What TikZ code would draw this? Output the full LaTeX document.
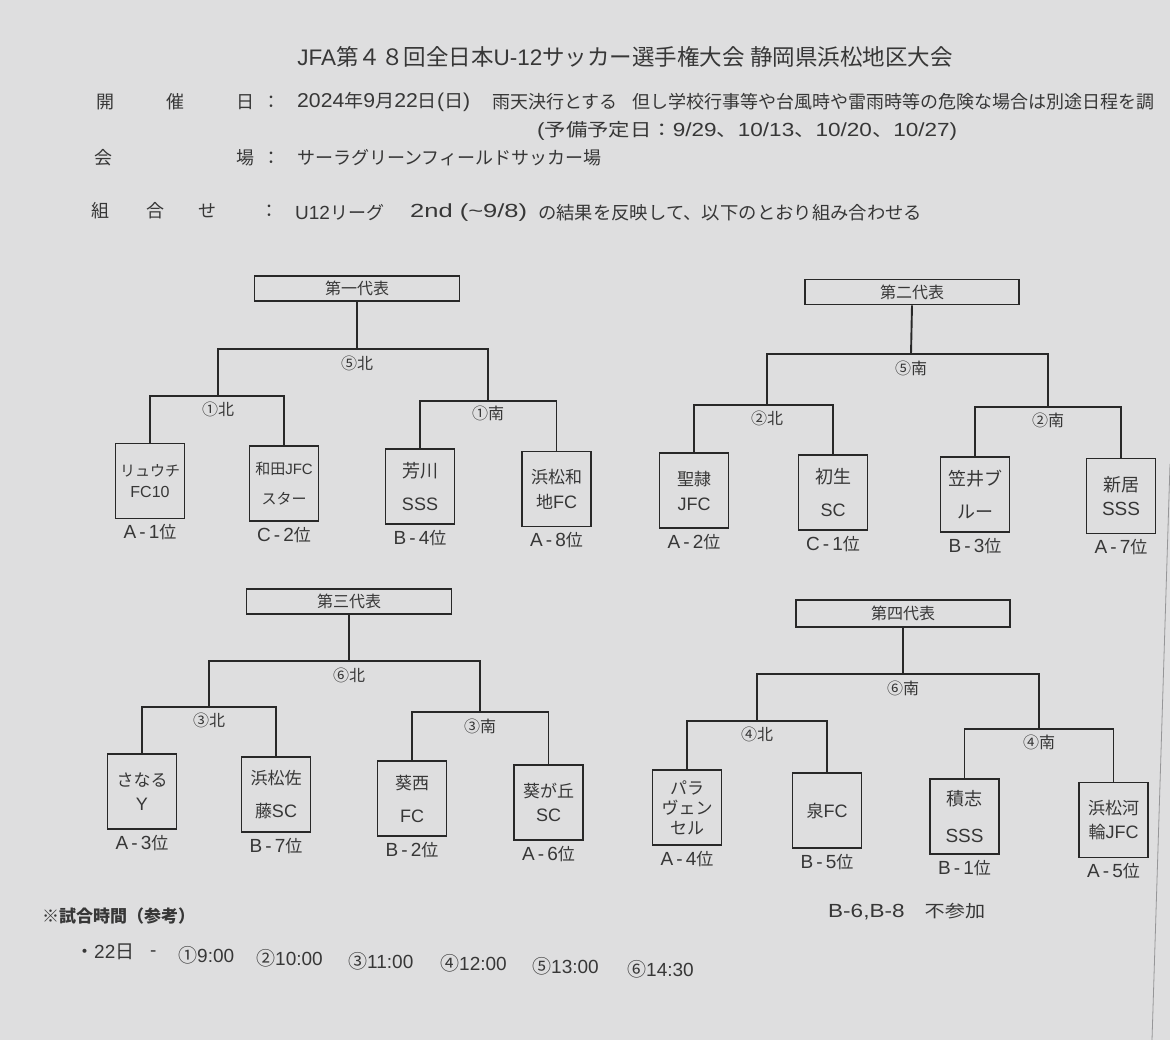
\documentclass[tikz,border=0pt]{standalone}
\usepackage{fontspec}
\setmainfont{Noto Sans CJK JP}
\newfontfamily\la{Liberation Sans}
\usetikzlibrary{positioning}
\definecolor{bg}{RGB}{222,222,223}
\definecolor{ink}{RGB}{40,40,40}
\definecolor{txt}{RGB}{55,55,55}
\definecolor{edge}{RGB}{150,150,152}
\newcommand\myfs[2]{\fontsize{#1}{#2}\selectfont}
\newcommand\rnk[2]{{\la\myfs{19}{20}#1\,-\,#2}位}
\newcommand\fitw[2]{\resizebox{#1}{\height}{#2}}
\begin{document}
\begin{tikzpicture}[x=1pt,y=-1pt,
  conn/.style={draw=ink,line width=1.9pt},
  teambox/.style={draw=ink,line width=1.9pt,minimum width=69pt,minimum height=75pt,inner sep=0pt,align=center,text=txt},
  headbox/.style={draw=ink,line width=1.7pt,minimum width=205pt,minimum height=25pt,inner sep=0pt,text=txt,font=\myfs{16}{18}},
  rank/.style={text=txt,font=\myfs{17}{20},inner sep=0pt,anchor=north},
  lbl/.style={text=txt,font=\myfs{16}{19},inner sep=0pt},
  hdr/.style={text=txt,font=\myfs{18}{22},inner sep=0pt,anchor=west},
]
\useasboundingbox (0,0) rectangle (1170,1040);
\clip (0,0) rectangle (1170,1040);
\fill[bg] (0,0) rectangle (1170,1040);
\draw[edge,line width=0.8pt] (1170,464) -- (1152,1040);

% ---------- header ----------
\node[text=txt,font=\myfs{22.5}{26},inner sep=0pt] (title) at (625,57) {{\la JFA}第４８回全日本{\la U-12}サッカー選手権大会 静岡県浜松地区大会};

\node[hdr] (h1a) at (96,102) {開};
\node[hdr] (h1b) at (166,102) {催};
\node[hdr] (h1c) at (236,102) {日};
\node[hdr] (h1d) at (262,102) {：};
\node[hdr] (h1e) at (297,102) {\fitw{173pt}{{\la\myfs{20}{22}2024}年{\la\myfs{20}{22}9}月{\la\myfs{20}{22}22}日{\la\myfs{20}{22}(}日{\la\myfs{20}{22})}}};
\node[hdr] (h1f) at (492,102) {雨天決行とする};
\node[hdr] (h1g) at (632,102) {但し学校行事等や台風時や雷雨時等の危険な場合は別途日程を調};
\node[hdr] (h2) at (537,131) {\fitw{420pt}{{\la\myfs{19}{22}(}予備予定日：{\la\myfs{19}{22}9/29}、{\la\myfs{19}{22}10/13}、{\la\myfs{19}{22}10/20}、{\la\myfs{19}{22}10/27)}}};
\node[hdr] (h3a) at (94,158) {会};
\node[hdr] (h3b) at (236,158) {場};
\node[hdr] (h3c) at (262,158) {：};
\node[hdr] (h3d) at (297,158) {サーラグリーンフィールドサッカー場};
\node[hdr] (h4a) at (91,211) {組};
\node[hdr] (h4b) at (146,211) {合};
\node[hdr] (h4c) at (198,211) {せ};
\node[hdr] (h4d) at (260,211) {：};
\node[hdr] (h4e) at (295,213) {{\la\myfs{19}{22}U12}リーグ};
\node[hdr] (h4f) at (410,213) {\fitw{117pt}{{\la\myfs{19}{22}2nd (\char"007E 9/8)}}};
\node[hdr] (h4g) at (538,213) {\fitw{384pt}{の結果を反映して、以下のとおり組み合わせる}};

% ---------- bracket 1 ----------
\node[headbox] (r1) at (357,288.5) {第一代表};
\node[teambox,font=\myfs{15}{21}] (t11) at (150,481) {リュウチ\\{\la\myfs{16}{21}FC10}};
\node[teambox,font=\myfs{15}{30}] (t12) at (284,483.5) {和田{\la\myfs{15}{30}JFC}\\スター};
\node[teambox,font=\myfs{18}{33}] (t13) at (420,486.5) {芳川\\{\la\myfs{18}{33}SSS}};
\node[teambox,font=\myfs{17}{25}] (t14) at (556.5,489) {浜松和\\地{\la\myfs{18}{25}FC}};
\coordinate (m11) at (218,396);
\coordinate (m12) at (488,401);
\coordinate (M1) at (357,349);
\draw[conn] (t11.north) |- (m11) -| (t12.north);
\draw[conn] (t13.north) |- (m12) -| (t14.north);
\draw[conn] (m11) |- (M1) -| (m12);
\draw[conn] (r1.south) -- (M1);
\node[lbl] (l11) at ([yshift=-13pt]m11) {①北};
\node[lbl] (l12) at ([yshift=-12pt]m12) {①南};
\node[lbl] (L1) at ([yshift=-14pt]M1) {⑤北};
\node[rank] (a11) at ([yshift=-5pt]t11.south) {\rnk{A}{1}};
\node[rank] (a12) at ([yshift=-5pt]t12.south) {\rnk{C}{2}};
\node[rank] (a13) at ([yshift=-5pt]t13.south) {\rnk{B}{4}};
\node[rank] (a14) at ([yshift=-5pt]t14.south) {\rnk{A}{8}};

% ---------- bracket 2 ----------
\node[headbox,minimum width=214pt] (r2) at (912,292) {第二代表};
\node[teambox,font=\myfs{17}{25}] (t21) at (694,490.5) {聖隷\\{\la\myfs{18}{25}JFC}};
\node[teambox,font=\myfs{18}{33}] (t22) at (833,492.5) {初生\\{\la\myfs{18}{33}SC}};
\node[teambox,font=\myfs{18}{33}] (t23) at (975,494.5) {笠井ブ\\ルー};
\node[teambox,font=\myfs{18}{24}] (t24) at (1121,496) {新居\\{\la\myfs{19}{24}SSS}};
\coordinate (m21) at (767,405);
\coordinate (m22) at (1048,407);
\coordinate (M2) at (911,354);
\draw[conn] (t21.north) |- (m21) -| (t22.north);
\draw[conn] (t23.north) |- (m22) -| (t24.north);
\draw[conn] (m21) |- (M2) -| (m22);
\draw[conn] (r2.south) -- (M2);
\node[lbl] (l21) at ([yshift=-13pt]m21) {②北};
\node[lbl] (l22) at ([yshift=-13pt]m22) {②南};
\node[lbl] (L2) at ([yshift=-14pt]M2) {⑤南};
\node[rank] (a21) at ([yshift=-5pt]t21.south) {\rnk{A}{2}};
\node[rank] (a22) at ([yshift=-5pt]t22.south) {\rnk{C}{1}};
\node[rank] (a23) at ([yshift=-5pt]t23.south) {\rnk{B}{3}};
\node[rank] (a24) at ([yshift=-5pt]t24.south) {\rnk{A}{7}};

% ---------- bracket 3 ----------
\node[headbox] (r3) at (349,601.5) {第三代表};
\node[teambox,font=\myfs{17}{24}] (t31) at (142,791.5) {さなる\\{\la\myfs{18}{24}Y}};
\node[teambox,font=\myfs{17}{33}] (t32) at (276,794.5) {浜松佐\\藤{\la\myfs{18}{33}SC}};
\node[teambox,font=\myfs{17}{33}] (t33) at (412,798.5) {葵西\\{\la\myfs{18}{33}FC}};
\node[teambox,font=\myfs{17}{24}] (t34) at (548.5,802.5) {葵が丘\\{\la\myfs{18}{24}SC}};
\coordinate (m31) at (209,707);
\coordinate (m32) at (480,712);
\coordinate (M3) at (349,661);
\draw[conn] (t31.north) |- (m31) -| (t32.north);
\draw[conn] (t33.north) |- (m32) -| (t34.north);
\draw[conn] (m31) |- (M3) -| (m32);
\draw[conn] (r3.south) -- (M3);
\node[lbl] (l31) at ([yshift=-13pt]m31) {③北};
\node[lbl] (l32) at ([yshift=-14pt]m32) {③南};
\node[lbl] (L3) at ([yshift=-14pt]M3) {⑥北};
\node[rank] (a31) at ([yshift=-5pt]t31.south) {\rnk{A}{3}};
\node[rank] (a32) at ([yshift=-5pt]t32.south) {\rnk{B}{7}};
\node[rank] (a33) at ([yshift=-5pt]t33.south) {\rnk{B}{2}};
\node[rank] (a34) at ([yshift=-5pt]t34.south) {\rnk{A}{6}};

% ---------- bracket 4 ----------
\node[headbox,minimum width=214pt,minimum height=27pt] (r4) at (903,613.5) {第四代表};
\node[teambox,font=\myfs{17}{20}] (t41) at (687,807.5) {パラ\\ヴェン\\セル};
\node[teambox,font=\myfs{17}{20}] (t42) at (827,810.5) {泉{\la\myfs{18}{20}FC}};
\node[teambox,font=\myfs{18}{37}] (t43) at (964.5,816.5) {積志\\{\la\myfs{19}{37}SSS}};
\node[teambox,font=\myfs{17}{24}] (t44) at (1113.5,820) {浜松河\\輪{\la\myfs{18}{24}JFC}};
\coordinate (m41) at (757,721);
\coordinate (m42) at (1039,729);
\coordinate (M4) at (903,674);
\draw[conn] (t41.north) |- (m41) -| (t42.north);
\draw[conn] (t43.north) |- (m42) -| (t44.north);
\draw[conn] (m41) |- (M4) -| (m42);
\draw[conn] (r4.south) -- (M4);
\node[lbl] (l41) at ([yshift=-13pt]m41) {④北};
\node[lbl] (l42) at ([yshift=-13pt]m42) {④南};
\node[lbl] (L4) at ([yshift=-14pt]M4) {⑥南};
\node[rank] (a41) at ([yshift=-5pt]t41.south) {\rnk{A}{4}};
\node[rank] (a42) at ([yshift=-5pt]t42.south) {\rnk{B}{5}};
\node[rank] (a43) at ([yshift=-5pt]t43.south) {\rnk{B}{1}};
\node[rank] (a44) at ([yshift=-5pt]t44.south) {\rnk{A}{5}};

\node[hdr,font=\myfs{17}{20}] (absent) at (828,912) {\fitw{157pt}{{\la\myfs{19}{20}B-6,B-8}　不参加}};

% ---------- footer ----------
\node[hdr,font=\bfseries\myfs{17}{20}] (f0) at (42,916) {※試合時間（参考）};
\node[hdr,font=\myfs{19}{22}] (f1) at (75,952) {・{\la 22}日};
\node[hdr,font=\myfs{19}{22}] (f2) at (150,954) {{\la -}};
\node[hdr,font=\myfs{19}{22}] (f3) at (178,955) {①{\la 9:00}};
\node[hdr,font=\myfs{19}{22}] (f4) at (256,958) {②{\la 10:00}};
\node[hdr,font=\myfs{19}{22}] (f5) at (348,961) {③{\la 11:00}};
\node[hdr,font=\myfs{19}{22}] (f6) at (440,963) {④{\la 12:00}};
\node[hdr,font=\myfs{19}{22}] (f7) at (532,966) {⑤{\la 13:00}};
\node[hdr,font=\myfs{19}{22}] (f8) at (627,969) {⑥{\la 14:30}};
\end{tikzpicture}
\end{document}
